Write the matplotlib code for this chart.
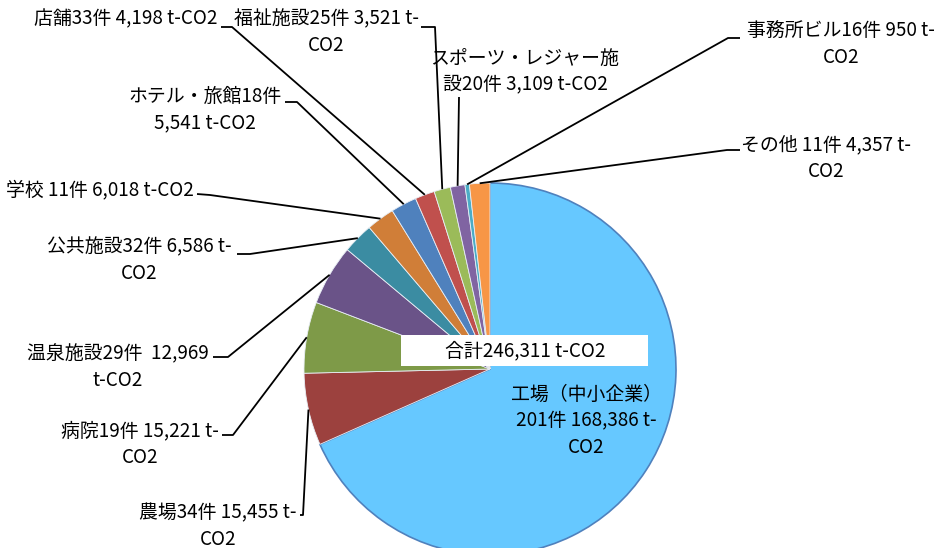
import matplotlib
matplotlib.use('Agg')
import matplotlib.pyplot as plt
import numpy as np
from matplotlib.patches import Rectangle

plt.rcParams['font.family'] = ['Noto Sans CJK JP', 'DejaVu Sans']

# ---- data ----
categories = ['工場（中小企業）', '農場', '病院', '温泉施設', '公共施設', '学校',
              'ホテル・旅館', '店舗', '福祉施設', 'スポーツ・レジャー施設', '事務所ビル', 'その他']
counts = [201, 34, 19, 29, 32, 11, 18, 33, 25, 20, 16, 11]
values = [168386, 15455, 15221, 12969, 6586, 6018, 5541, 4198, 3521, 3109, 950, 4357]
labels = [
    '工場（中小企業）\n201件 168,386 t-\nCO2',
    '農場34件 15,455 t-\nCO2',
    '病院19件 15,221 t-\nCO2',
    '温泉施設29件  12,969\nt-CO2',
    '公共施設32件 6,586 t-\nCO2',
    '学校 11件 6,018 t-CO2',
    'ホテル・旅館18件\n5,541 t-CO2',
    '店舗33件 4,198 t-CO2',
    '福祉施設25件 3,521 t-\nCO2',
    'スポーツ・レジャー施\n設20件 3,109 t-CO2',
    '事務所ビル16件 950 t-\nCO2',
    'その他 11件 4,357 t-\nCO2',
]
total_label = '合計246,311 t-CO2'
colors = ['#66C8FF', '#9C413E', '#7E9A48', '#6A5388', '#3B8CA2', '#D07E38',
          '#4F81BD', '#C0504D', '#9BBB59', '#8064A2', '#4BACC6', '#F79646']

# ---- layout (pixel coordinates, y down) ----
W, H = 945, 548
def P(x, y):
    return (x, H - y)

label_pos = [(586, 421), (218, 526), (140, 444), (118, 367), (139, 260), (100, 190),
             (205, 110), (126, 19), (326, 32), (525, 72), (841, 44), (826, 158)]
# leader polyline start and kink points (None = no leader)
leader_pts = [None,
              [(300, 515), (303, 515)],
              [(222, 435), (233, 435)],
              [(213, 357), (228, 357)],
              [(237, 254), (250, 254)],
              [(197, 194), (210, 195)],
              [(285, 102), (297, 102)],
              [(221, 27), (232, 27)],
              [(421, 27), (435, 27)],
              [(459, 97), (459, 97)],
              [(740, 38), (728, 38)],
              [(740, 150), (727, 150)]]

fig = plt.figure(figsize=(9.45, 5.48), dpi=100)
ax = fig.add_axes([0, 0, 1, 1])
cx, cy = P(490, 369)
R = 186
wedges, _ = ax.pie(values, colors=colors, startangle=90, counterclock=False,
                   center=(cx, cy), radius=R, frame=True,
                   wedgeprops=dict(linewidth=0.6, edgecolor='#e8eef5'))
wedges[0].set_edgecolor('#4F81BD')
wedges[0].set_linewidth(1.2)
ax.set_xlim(0, W)
ax.set_ylim(0, H)
ax.set_aspect('equal')
ax.axis('off')

fs = 13.6
for i, w in enumerate(wedges):
    tx, ty = P(*label_pos[i])
    ax.text(tx, ty, labels[i], ha='center', va='center', multialignment='center',
            fontsize=fs, linespacing=1.33, color='black', zorder=6)
    if leader_pts[i] is not None:
        ang = np.deg2rad((w.theta1 + w.theta2) / 2)
        ex, ey = cx + R * np.cos(ang), cy + R * np.sin(ang)
        pts = [P(*p) for p in leader_pts[i]] + [(ex, ey)]
        xs, ys = zip(*pts)
        ax.plot(xs, ys, color='black', lw=1.3, zorder=5, solid_capstyle='butt')

bx, by = P(401, 366)
ax.add_patch(Rectangle((bx, by), 247, 31, facecolor='white', edgecolor='none', zorder=7))
ax.text(*P(525, 351), total_label, ha='center', va='center', fontsize=fs,
        color='black', zorder=8)

fig.savefig('out.png', dpi=100)
